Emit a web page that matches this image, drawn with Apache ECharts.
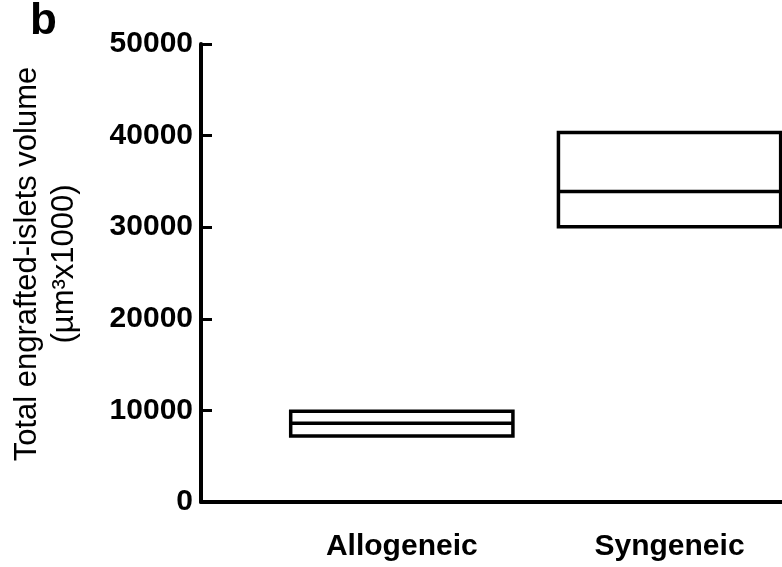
<!DOCTYPE html>
<html>
<head>
<meta charset="utf-8">
<title>Total engrafted-islets volume</title>
<script src="https://cdn.jsdelivr.net/npm/echarts@6/dist/echarts.min.js"></script>
<style>
  html, body { margin: 0; padding: 0; background: #fff; }
  #chart { width: 782px; height: 567px; }
</style>
</head>
<body>
<div id="chart"></div>
<script>
// data (values in µm³ x 1000)
const categories = ['Allogeneic', 'Syngeneic'];
const lowValues = [7200, 30050];
const medianValues = [8600, 33900];
const highValues = [9900, 40350];
const yTickValues = [0, 10000, 20000, 30000, 40000, 50000];

const FONT = '"Liberation Sans", Arial, Helvetica, sans-serif';
const BOX_W = 0.83; // box width in x units
const catX = categories.map((c, i) => i + 0.75);

const boxData = categories.map((c, i) => [catX[i], lowValues[i], medianValues[i], highValues[i]]);

const chart = echarts.init(document.getElementById('chart'), null, { renderer: 'canvas' });

const option = {
  backgroundColor: '#fff',
  animation: false,
  title: {
    text: 'b',
    left: 30,
    top: 0,
    padding: 0,
    textStyle: { fontFamily: FONT, fontWeight: 'bold', fontSize: 44, color: '#000' }
  },
  grid: {
    left: 201,
    right: 0,
    top: 44,
    bottom: 65,
    containLabel: false
  },
  xAxis: {
    type: 'value',
    min: 0,
    max: 2.17,
    splitLine: { show: false },
    axisTick: { show: false },
    axisLine: { show: true, onZero: false, lineStyle: { color: '#000', width: 4 } },
    axisLabel: {
      customValues: catX,
      formatter: (val) => categories[Math.round(val - 0.75)] || '',
      fontFamily: FONT,
      fontWeight: 'bold',
      fontSize: 30,
      color: '#000',
      margin: 30
    }
  },
  yAxis: {
    type: 'value',
    min: yTickValues[0],
    max: yTickValues[yTickValues.length - 1],
    interval: yTickValues[1] - yTickValues[0],
    name: 'Total engrafted-islets volume\n(µm³x1000)',
    nameLocation: 'middle',
    nameRotate: 90,
    nameGap: 118,
    nameTextStyle: {
      fontFamily: FONT,
      fontSize: 31,
      lineHeight: 37,
      color: '#000',
      padding: [0, 0, 0, 18]
    },
    splitLine: { show: false },
    axisLine: { show: true, lineStyle: { color: '#000', width: 4 } },
    axisTick: { show: true, inside: true, length: 11, lineStyle: { color: '#000', width: 3 } },
    axisLabel: {
      formatter: (val) => String(val),
      fontFamily: FONT,
      fontWeight: 'bold',
      fontSize: 30,
      color: '#000',
      margin: 8
    }
  },
  series: [{
    type: 'custom',
    data: boxData,
    encode: { x: 0, y: [1, 2, 3] },
    renderItem: (params, api) => {
      const x = api.value(0);
      const pLow = api.coord([x, api.value(1)]);
      const pMed = api.coord([x, api.value(2)]);
      const pHigh = api.coord([x, api.value(3)]);
      const w = api.size([BOX_W, 0])[0];
      const left = pLow[0] - w / 2;
      return {
        type: 'group',
        children: [
          {
            type: 'rect',
            shape: { x: left, y: pHigh[1], width: w, height: pLow[1] - pHigh[1] },
            style: { fill: '#fff', stroke: '#000', lineWidth: 3.5 }
          },
          {
            type: 'line',
            shape: { x1: left, y1: pMed[1], x2: left + w, y2: pMed[1] },
            style: { stroke: '#000', lineWidth: 3.5 }
          }
        ]
      };
    }
  }]
};

chart.setOption(option);
</script>
</body>
</html>
